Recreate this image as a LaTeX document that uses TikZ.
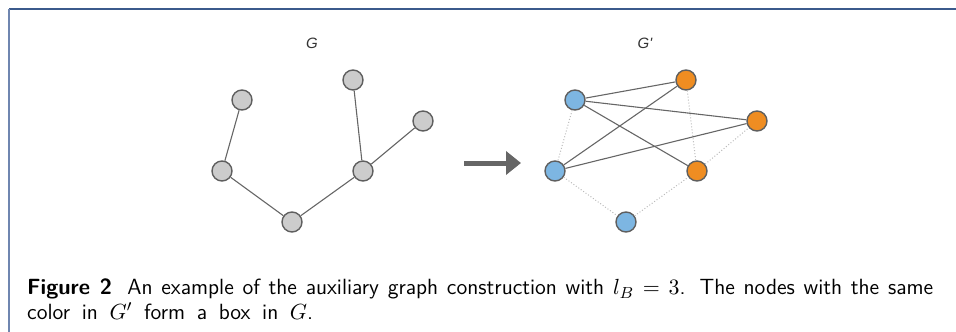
\documentclass[tikz,border=0pt]{standalone}
\usepackage{fontspec}
\newfontfamily\labelfont{Liberation Sans}
\usetikzlibrary{arrows.meta}
\definecolor{framecol}{HTML}{3B5A8C}
\definecolor{frameleft}{HTML}{6F86B0}
\definecolor{nodegray}{HTML}{CCCCCC}
\definecolor{nodeblue}{HTML}{7DB6E2}
\definecolor{nodeorange}{HTML}{EF8D22}
\definecolor{rimcol}{HTML}{5F5F5F}
\definecolor{edgecol}{HTML}{666666}
\definecolor{dotcol}{HTML}{BBBBBB}
\tikzset{
  vtx/.style={circle, draw=rimcol, line width=1.4pt, minimum size=20pt, inner sep=0pt},
  gv/.style={vtx, fill=nodegray},
  bv/.style={vtx, fill=nodeblue},
  ov/.style={vtx, fill=nodeorange},
  edge/.style={draw=edgecol, line width=1.1pt},
  dotedge/.style={draw=dotcol, line width=1pt, dotted},
  glabel/.style={font=\labelfont\itshape\fontsize{15}{17}\selectfont, text=black!80},
}
\begin{document}
\begin{tikzpicture}[x=1pt,y=-1pt]
\useasboundingbox (0,0) rectangle (956,332);
\draw[framecol, line width=1.5pt] (9,9) -- (956,9);
\draw[frameleft, line width=1.2pt] (9,9) -- (9,332);
% G
\node[glabel] (gl) at (312,43) {G};
\node[gv] (a1) at (242,100) {};
\node[gv] (a2) at (222,171) {};
\node[gv] (a3) at (292,222) {};
\node[gv] (a4) at (363,171) {};
\node[gv] (a5) at (353,80) {};
\node[gv] (a6) at (423,121) {};
\draw[edge] (a1) -- (a2);
\draw[edge] (a2) -- (a3);
\draw[edge] (a3) -- (a4);
\draw[edge] (a4) -- (a5);
\draw[edge] (a4) -- (a6);
% arrow
\coordinate (ar1) at (464,163);
\coordinate (ar2) at (521,163);
\draw[edgecol, line width=5pt, -{Triangle[length=15pt,width=23pt]}] (ar1) -- (ar2);
% G'
\node[glabel] (gpl) at (645,43) {G'};
\node[bv] (b1) at (575,100) {};
\node[ov] (b2) at (686,80) {};
\node[ov] (b3) at (757,121) {};
\node[bv] (b4) at (555,171) {};
\node[ov] (b5) at (697,171) {};
\node[bv] (b6) at (626,222) {};
\draw[dotedge] (b1) -- (b4);
\draw[dotedge] (b4) -- (b6);
\draw[dotedge] (b6) -- (b5);
\draw[dotedge] (b2) -- (b5);
\draw[dotedge] (b5) -- (b3);
\draw[edge] (b1) -- (b2);
\draw[edge] (b1) -- (b3);
\draw[edge] (b1) -- (b5);
\draw[edge] (b4) -- (b2);
\draw[edge] (b4) -- (b3);
% caption
\node[anchor=base west, inner sep=0pt, font=\sffamily\fontsize{11}{12}\selectfont] (cap) at (27,319)
 {\scalebox{2}{\begin{tabular}[b]{@{}l@{}}\makebox[453pt][s]{\textbf{Figure 2}\hspace{0.7em}An example of the auxiliary graph construction with $l_B=3$. The nodes with the same}\\
 \makebox[143pt][s]{color in $G'$ form a box in $G$.}\end{tabular}}};
\end{tikzpicture}
\end{document}
